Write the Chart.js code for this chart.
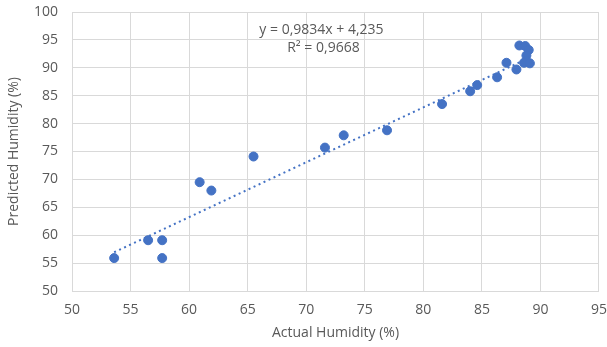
<!DOCTYPE html>
<html>
<head>
<meta charset="utf-8">
<script src="https://cdn.jsdelivr.net/npm/chart.js@4.4.1/dist/chart.umd.min.js"></script>
<style>
    body { margin: 0; background: #fff; }
</style>
</head>
<body>
<canvas id="grafico" width="607" height="347"></canvas>
<script>
// valores
const actualHumidity = [53.6, 56.5, 57.7, 57.7, 60.9, 61.9, 65.5, 71.6, 73.2, 76.9, 81.6, 84.0, 84.6, 86.3, 87.1, 87.95, 88.2, 88.7, 89.0, 88.8, 88.8, 88.6, 89.1];
const predictedHumidity = [55.9, 59.1, 59.1, 55.9, 69.5, 68.0, 74.1, 75.7, 77.9, 78.8, 83.5, 85.8, 86.9, 88.3, 90.9, 89.7, 94.0, 93.9, 93.2, 92.2, 91.2, 90.9, 90.8];

const slope = 0.9834;
const intercept = 4.235;
const equationLines = ['y = 0,9834x + 4,235', 'R² = 0,9668'];

const textColor = '#595959';
const gridColor = '#d9d9d9';
const blue = '#4472c4';
const font = { family: 'Open Sans', size: 14 };

const points = actualHumidity.map((x, i) => ({ x: x, y: predictedHumidity[i] }));
const xMin = Math.min(...actualHumidity);
const xMax = Math.max(...actualHumidity);
const trend = [
    { x: xMin, y: slope * xMin + intercept },
    { x: xMax, y: slope * xMax + intercept }
];

// texto da equação da linha de tendência
const equacao = {
    id: 'equacao',
    afterDatasetsDraw(chart) {
        const ctx = chart.ctx;
        const cx = chart.scales.x.getPixelForValue(71.3);
        const cy = chart.scales.y.getPixelForValue(96.7);
        ctx.save();
        ctx.fillStyle = textColor;
        ctx.font = '14px "Open Sans"';
        ctx.textAlign = 'center';
        ctx.textBaseline = 'middle';
        ctx.fillText(equationLines[0], cx, cy);
        ctx.fillText(equationLines[1], cx + 2, cy + 18);
        ctx.restore();
    }
};

new Chart(document.getElementById('grafico'), {
    type: 'scatter',
    data: {
        datasets: [{
            label: 'Humidity',
            data: points,
            backgroundColor: blue,
            borderColor: blue,
            pointRadius: 4.5,
            pointHoverRadius: 4.5,
            order: 1
        }, {
            type: 'line',
            label: 'Linear',
            data: trend,
            borderColor: blue,
            borderWidth: 2,
            borderDash: [2, 3.5],
            pointRadius: 0,
            fill: false,
            order: 2
        }]
    },
    options: {
        responsive: false,
        animation: false,
        layout: { padding: { left: 0, right: 0, top: 12, bottom: 0 } },
        plugins: {
            legend: { display: false },
            tooltip: { enabled: false }
        },
        scales: {
            x: {
                type: 'linear',
                min: 50,
                max: 95,
                ticks: { stepSize: 5, color: textColor, font: font, padding: 0, maxRotation: 0 },
                grid: { color: gridColor, tickColor: 'transparent', tickLength: 11 },
                border: { color: gridColor },
                title: { display: true, text: 'Actual Humidity (%)', color: textColor, font: font, padding: { top: 0, bottom: 6 } },
                afterFit(s) { s.height = 56; }
            },
            y: {
                min: 50,
                max: 100,
                ticks: { stepSize: 5, color: textColor, font: font, padding: 0 },
                grid: { color: gridColor, tickColor: 'transparent', tickLength: 14 },
                border: { color: gridColor },
                title: { display: true, text: 'Predicted Humidity (%)', color: textColor, font: font, padding: { top: 6, bottom: 0 } },
                afterFit(s) { s.width = 72; }
            }
        }
    },
    plugins: [equacao]
});
</script>
</body>
</html>
